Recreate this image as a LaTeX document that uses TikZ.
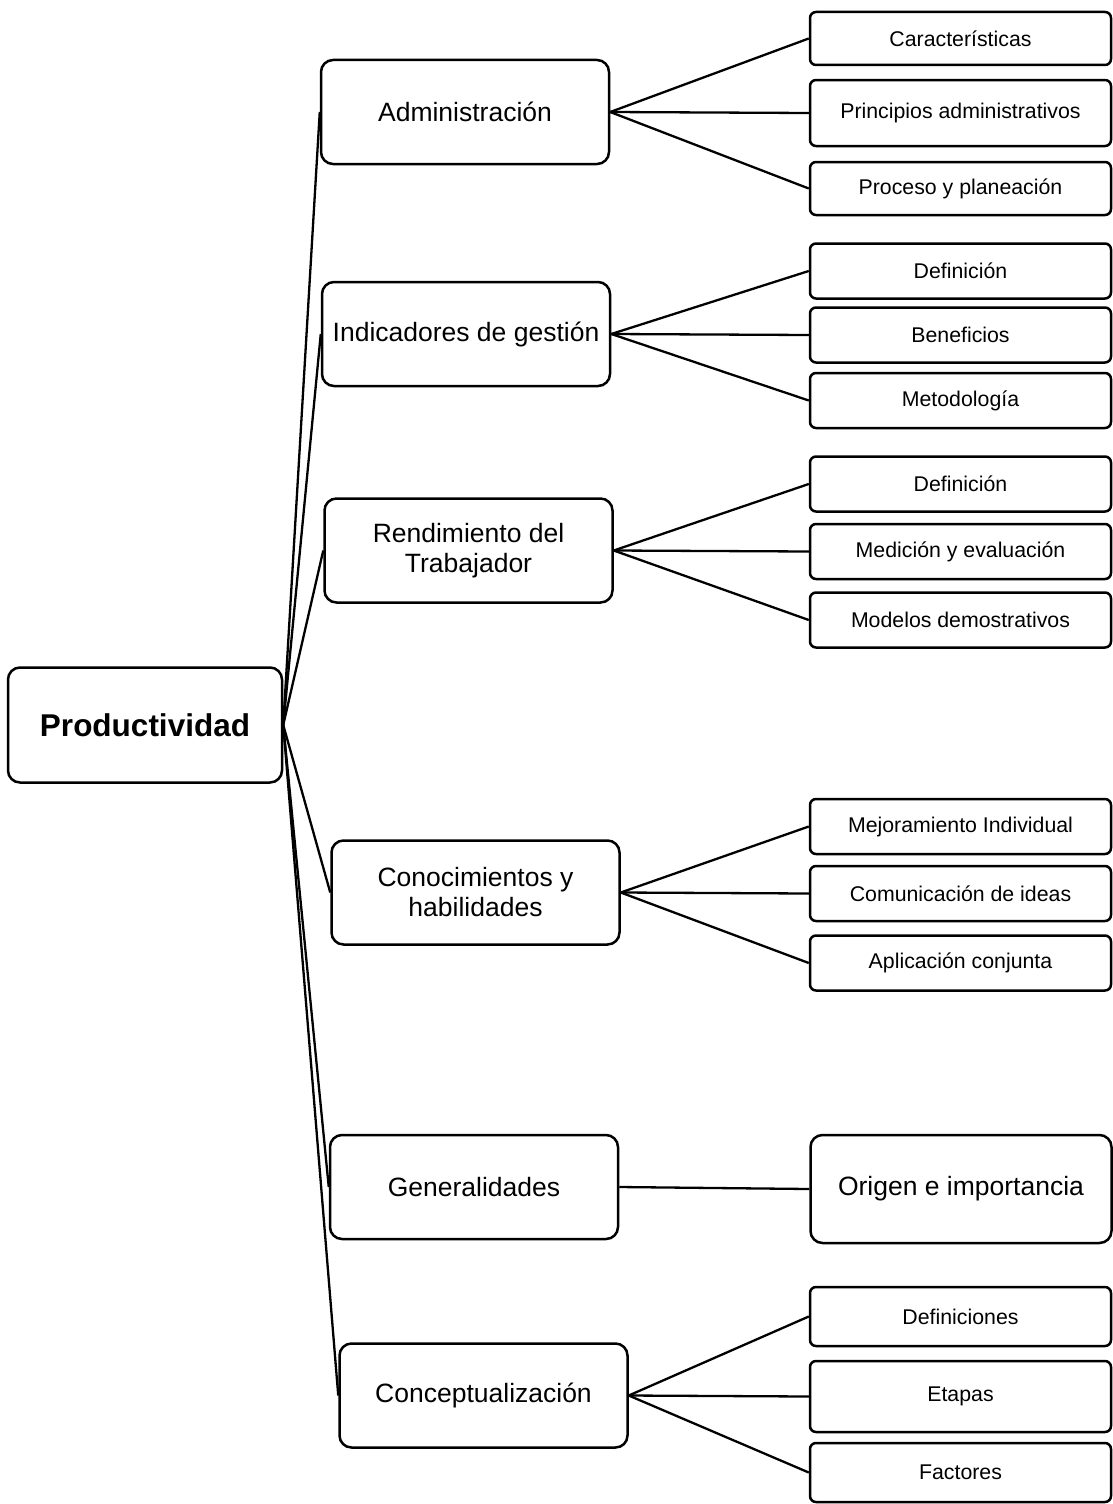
\documentclass[tikz,border=0pt]{standalone}
\usepackage{fontspec}
\setmainfont{Liberation Sans}
\usepackage{xcolor}

\tikzset{
  rootbox/.style={draw,line width=2.5pt,rounded corners=12pt,minimum width=274pt,minimum height=115pt,font=\fontsize{31.5}{36}\selectfont\bfseries},
  midbox/.style={draw,line width=2.5pt,rounded corners=12pt,minimum width=288pt,minimum height=104pt,align=center,font=\fontsize{26.5}{30}\selectfont},
  leafbox/.style={draw,line width=2.5pt,rounded corners=6pt,minimum width=301pt,minimum height=55pt,font=\fontsize{21.3}{25}\selectfont},
  link/.style={line width=2.3pt}
}

\begin{document}
\begin{tikzpicture}[x=1pt,y=-1pt]
    \useasboundingbox (0,0) rectangle (1112,1504);

    \node[rootbox] (prod) at (145,725) {Productividad};

    \node[midbox] (adm) at (465,112) {Administración};
    \node[midbox] (ind) at (466,334) {Indicadores de gestión};
    \node[midbox] (ren) at (468.5,550.5) {Rendimiento del\\Trabajador};
    \node[midbox] (con) at (475.5,892.5) {Conocimientos y\\habilidades};
    \node[midbox] (gen) at (474,1187) {Generalidades};
    \node[midbox] (cpt) at (483.5,1395.5) {Conceptualización};

    \node[leafbox,minimum height=53pt] (adm1) at (960.5,38.5) {Características};
    \node[leafbox,minimum height=66pt] (adm2) at (960.5,113) {Principios administrativos};
    \node[leafbox,minimum height=53pt] (adm3) at (960.5,188.5) {Proceso y planeación};

    \node[leafbox] (ind1) at (960.5,271) {Definición};
    \node[leafbox] (ind2) at (960.5,335) {Beneficios};
    \node[leafbox] (ind3) at (960.5,400.5) {Metodología};

    \node[leafbox] (ren1) at (960.5,484) {Definición};
    \node[leafbox] (ren2) at (960.5,551.5) {Medición y evaluación};
    \node[leafbox] (ren3) at (960.5,620) {Modelos demostrativos};

    \node[leafbox] (con1) at (960.5,826.5) {Mejoramiento Individual};
    \node[leafbox] (con2) at (960.5,893.5) {Comunicación de ideas};
    \node[leafbox] (con3) at (960.5,963) {Aplicación conjunta};

    \node[leafbox,rounded corners=12pt,minimum height=108pt,font=\fontsize{26.5}{30}\selectfont] (gen1) at (961,1189) {Origen e importancia};

    \node[leafbox,minimum height=59pt] (cpt1) at (960.5,1316.5) {Definiciones};
    \node[leafbox,minimum height=71pt] (cpt2) at (960.5,1396.5) {Etapas};
    \node[leafbox,minimum height=59pt] (cpt3) at (960.5,1472.5) {Factores};

    % root to topics
    \foreach \t in {adm,ind,ren,con,gen,cpt}
        \draw[link] (prod.east) -- (\t.west);

    % topics to subtopics
    \foreach \t in {adm,ind,ren,con,cpt}
        \foreach \s in {1,2,3}
            \draw[link] (\t.east) -- (\t\s.west);
    \draw[link] (gen.east) -- (gen1.west);
\end{tikzpicture}
\end{document}
